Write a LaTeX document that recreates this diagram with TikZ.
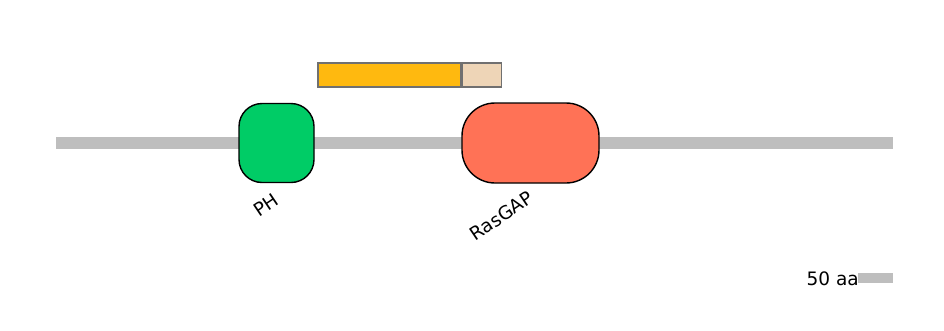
\documentclass[tikz,border=0pt]{standalone}
\usepackage{fontspec}
\setmainfont{DejaVu Sans}
\usetikzlibrary{positioning}
\definecolor{seqGray}{HTML}{BEBEBE}
\definecolor{phFill}{HTML}{00CC66}
\definecolor{gapFill}{HTML}{FF7256}
\definecolor{motifFill}{HTML}{FFB90F}
\definecolor{tailFill}{HTML}{EED5B7}
\definecolor{motifEdge}{HTML}{707070}
\tikzset{
  backbone/.style={draw=seqGray, line width=12pt},
  scalebar/.style={draw=seqGray, line width=10pt},
  domainbox/.style={draw=black, line width=1.4pt, inner sep=0pt},
  motifbox/.style={draw=motifEdge, line width=1.4pt, inner sep=0pt,
    minimum height=24pt},
  domLabel/.style={font=\fontsize{18.5}{21}\selectfont, anchor=north east,
    rotate=34, inner sep=0pt},
}
\begin{document}
\begin{tikzpicture}[x=1pt, y=-1pt]
    \useasboundingbox (0,0) rectangle (944,330);
    \coordinate (seqL) at (56,143);
    \coordinate (seqR) at (893,143);
    \draw[backbone] (seqL) -- (seqR);
    \node[motifbox, fill=motifFill, minimum width=143pt] (motif) at (389.5,75) {};
    \node[motifbox, fill=tailFill, minimum width=39pt, right=0pt of motif] (tail) {};
    \node[domainbox, fill=phFill, rounded corners=23pt,
      minimum width=75pt, minimum height=79pt] (ph) at (276.5,143) {};
    \node[domainbox, fill=gapFill, rounded corners=33pt,
      minimum width=137pt, minimum height=80pt] (rasgap) at (530.5,143) {};
    \node[domLabel] (phLabel) at (273,192) {PH};
    \node[domLabel] (gapLabel) at (527,190) {RasGAP};
    \coordinate (scaleL) at (858,278);
    \coordinate (scaleR) at (893,278);
    \draw[scalebar] (scaleL) -- (scaleR);
    \node[font=\fontsize{18.5}{21}\selectfont, anchor=east, inner sep=0pt] (scaleText) at (859,279) {50 aa};
  \end{tikzpicture}
\end{document}
